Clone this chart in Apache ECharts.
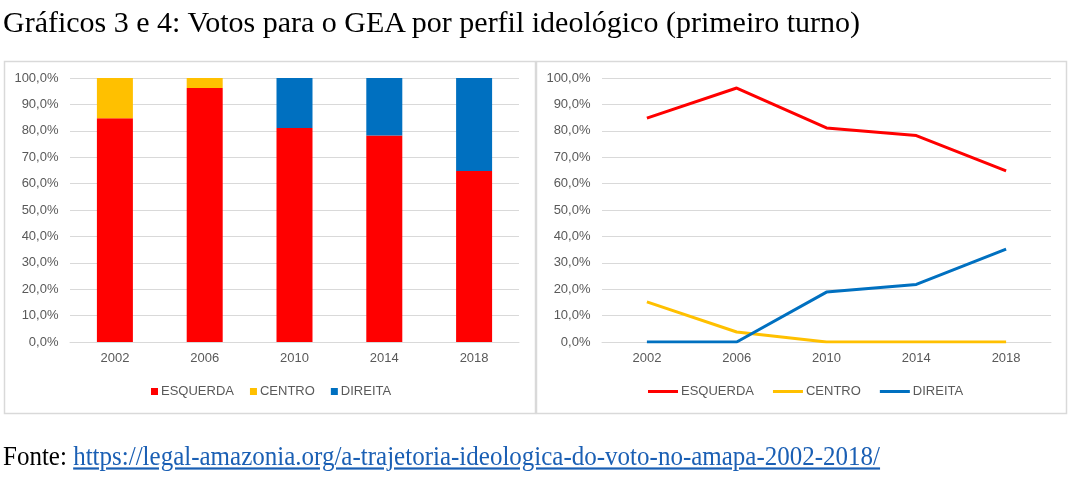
<!DOCTYPE html>
<html>
<head>
<meta charset="utf-8">
<script src="https://cdn.jsdelivr.net/npm/echarts@6/dist/echarts.min.js"></script>
<style>
html,body{margin:0;padding:0;background:#fff;width:1073px;height:479px;overflow:hidden;}
#title{position:absolute;left:3px;top:5px;font-family:"Liberation Serif","Times New Roman",serif;font-size:30px;color:#000;white-space:nowrap;}
#foot{position:absolute;left:3px;top:441px;font-family:"Liberation Serif","Times New Roman",serif;font-size:25px;color:#000;white-space:nowrap;transform:scaleY(1.1);transform-origin:0 0;}
#foot a{color:#1a5fb4;text-decoration:underline;}
#chart{position:absolute;left:0;top:0;width:1073px;height:479px;}
</style>
</head>
<body>
<div id="chart"></div>
<div id="title">Gráficos 3 e 4: Votos para o GEA por perfil ideológico (primeiro turno)</div>
<div id="foot">Fonte: <a href="#">https://legal-amazonia.org/a-trajetoria-ideologica-do-voto-no-amapa-2002-2018/</a></div>
<script>
var years = ['2002', '2006', '2010', '2014', '2018'];
var esquerda = [84.8, 96.2, 81.1, 78.2, 64.8];
var centro = [15.2, 3.8, 0, 0, 0];
var direita = [0, 0, 18.9, 21.8, 35.2];
var seriesNames = ['ESQUERDA', 'CENTRO', 'DIREITA'];
var colors = ['#ff0000', '#ffc000', '#0070c0'];

var chart = echarts.init(document.getElementById('chart'), null, {renderer: 'canvas'});
var labelStyle = {color: '#595959', fontSize: 13, fontFamily: 'Liberation Sans, Arial, sans-serif'};
function yAxis(gi) {
  return {
    type: 'value', gridIndex: gi, min: 0, max: 100, interval: 10,
    axisLabel: Object.assign({formatter: function (v) { return v.toFixed(1).replace('.', ',') + '%'; }, margin: 11.5}, labelStyle),
    splitLine: {lineStyle: {color: '#d9d9d9', width: 1}},
    axisLine: {show: false}, axisTick: {show: false}
  };
}
function xAxis(gi) {
  return {
    type: 'category', gridIndex: gi, data: years, boundaryGap: true,
    axisLabel: Object.assign({margin: 10}, labelStyle),
    axisLine: {lineStyle: {color: '#d9d9d9', width: 1}}, axisTick: {show: false}
  };
}
var data = [esquerda, centro, direita];
var series = [];
for (var i = 0; i < 3; i++) {
  series.push({
    name: seriesNames[i], type: 'bar', stack: 'tot', xAxisIndex: 0, yAxisIndex: 0,
    data: data[i], barWidth: 36, itemStyle: {color: colors[i]}, silent: true
  });
}
for (var j = 0; j < 3; j++) {
  series.push({
    name: seriesNames[j] + ' ', type: 'line', xAxisIndex: 1, yAxisIndex: 1,
    data: data[j], symbol: 'none', lineStyle: {color: colors[j], width: 3}, itemStyle: {color: colors[j]}, silent: true
  });
}
var legendText = {color: '#595959', fontSize: 13, fontFamily: 'Liberation Sans, Arial, sans-serif', padding: [0, 0, 0, -2]};
chart.setOption({
  animation: false,
  graphic: [
    {type: 'rect', shape: {x: 4.5, y: 61.5, width: 531, height: 352}, style: {fill: 'none', stroke: '#d9d9d9', lineWidth: 1.5}, silent: true},
    {type: 'rect', shape: {x: 536.5, y: 61.5, width: 530, height: 352}, style: {fill: 'none', stroke: '#d9d9d9', lineWidth: 1.5}, silent: true}
  ],
  grid: [
    {left: 70, top: 78, width: 449, height: 264},
    {left: 602, top: 78, width: 449, height: 264}
  ],
  xAxis: [xAxis(0), xAxis(1)],
  yAxis: [yAxis(0), yAxis(1)],
  legend: [
    {data: seriesNames, left: 146, top: 380, itemWidth: 7, itemHeight: 7, itemGap: 16, icon: 'rect', textStyle: legendText, selectedMode: false},
    {data: seriesNames.map(function (n) { return n + ' '; }), left: 643, top: 380, itemWidth: 30, itemHeight: 3, itemGap: 19, icon: 'rect', textStyle: legendText, selectedMode: false,
     formatter: function (n) { return n.trim(); }}
  ],
  series: series
});
</script>
</body>
</html>
